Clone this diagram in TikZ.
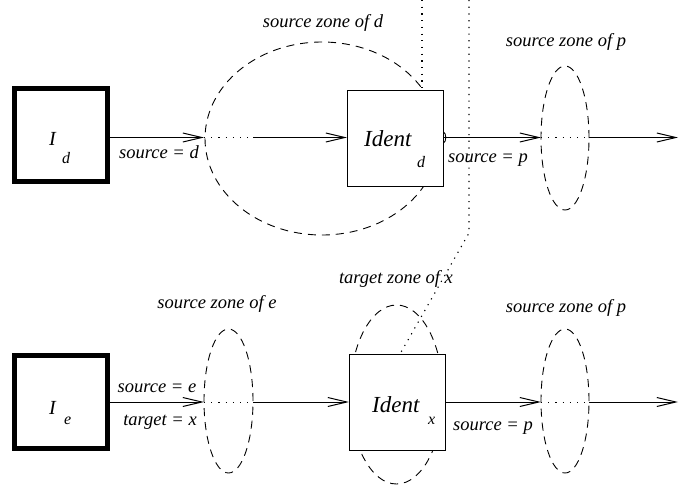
\documentclass[tikz,border=0pt]{standalone}
\usepackage{fontspec}
\setmainfont{Liberation Serif}
\usetikzlibrary{arrows.meta}
\begin{document}
\begin{tikzpicture}[x=1pt,y=-1pt,
  lbl/.style={font=\fontsize{18.5}{20}\selectfont\itshape, inner sep=0pt, anchor=base},
  big/.style={font=\fontsize{23}{25}\selectfont\itshape, inner sep=0pt, anchor=base west},
  letter/.style={font=\fontsize{20}{22}\selectfont\itshape, inner sep=0pt, anchor=base west},
  sub/.style={font=\fontsize{16}{18}\selectfont\itshape, inner sep=0pt, anchor=base west},
  inbox/.style={draw, line width=5.5pt, minimum width=93pt, minimum height=93pt, inner sep=0pt, outer sep=0pt, fill=white},
  identbox/.style={draw, line width=1pt, minimum width=96pt, minimum height=96pt, inner sep=0pt, outer sep=0pt, fill=white},
  zone/.style={dash pattern=on 8pt off 6pt, line width=0.9pt},
  guide/.style={dash pattern=on 1.2pt off 5.5pt, line width=1.1pt},
  link/.style={line width=1pt, -{Straight Barb[length=19pt,width=9pt]}},
  gap/.style={dash pattern=on 1.2pt off 6pt, line width=1pt},
]
\useasboundingbox (0,0) rectangle (679,485);

% zones (drawn first so the boxes hide them)
\draw[zone] (322,138.5) ellipse [x radius=117pt, y radius=96.5pt];
\draw[zone] (565,138) ellipse [x radius=24pt, y radius=72pt];
\draw[zone] (228.5,401) ellipse [x radius=24.5pt, y radius=72pt];
\draw[zone] (396.5,394.5) ellipse [x radius=46.5pt, y radius=89.5pt];
\draw[zone] (565,401) ellipse [x radius=24pt, y radius=72pt];

% boxes
\node[inbox] (Id) at (61,135) {};
\node[inbox] (Ie) at (61,402) {};
\node[identbox] (Identd) at (395,138) {};
\node[identbox] (Identx) at (397,402) {};

% box texts
\node[letter] (tId) at (49,145) {I};
\node[sub] (tIdsub) at (62,163) {d};
\node[letter] (tIe) at (49,414) {I};
\node[sub] (tIesub) at (64,424) {e};
\node[big] (tIdentd) at (364,146) {Ident};
\node[sub] (tIdentdsub) at (417,167) {d};
\node[big] (tIdentx) at (372,412) {Ident};
\node[sub] (tIdentxsub) at (428,424) {x};

% small cap on the right side of Ident_d
\draw[line width=0.9pt] (443.5,132) .. controls (446.5,133) and (446.5,142) .. (443.5,143);

% guide lines
\coordinate (g1) at (422,0);
\coordinate (g2) at (469,0);
\coordinate (g2b) at (469,233);
\draw[guide] (g1) -- (g1 |- Identd.north);
\draw[guide] (g2) -- (g2b) -- ([xshift=3pt]Identx.north);

% top row
\coordinate (zdL) at (204,137.5);
\coordinate (zdR) at (253,137.5);
\coordinate (zpL) at (541,137.5);
\coordinate (zpR) at (589,137.5);
\coordinate (outd) at (678,137.5);
\draw[link] (Id.east |- zdL) -- (zdL);
\draw[gap] (zdL) -- (zdR);
\draw[link] (zdR) -- (Identd.west |- zdR);
\draw[link] (Identd.east |- zpL) -- (zpL);
\draw[gap] (zpL) -- (zpR);
\draw[link] (zpR) -- (outd);

% bottom row
\coordinate (zeL) at (204,402);
\coordinate (zeR) at (253,402);
\coordinate (zqL) at (541,402);
\coordinate (zqR) at (589,402);
\coordinate (oute) at (678,402);
\draw[link] (Ie.east |- zeL) -- (zeL);
\draw[gap] (zeL) -- (zeR);
\draw[link] (zeR) -- (Identx.west |- zeR);
\draw[link] (Identx.east |- zqL) -- (zqL);
\draw[gap] (zqL) -- (zqR);
\draw[link] (zqR) -- (oute);

% labels
\node[lbl] (lzd) at (323,27) {source zone of d};
\node[lbl] (lzp1) at (566,46) {source zone of p};
\node[lbl] (lsd) at (159,158) {source = d};
\node[lbl] (lsp1) at (488,162) {source = p};
\node[lbl] (lzx) at (396,283) {target zone of x};
\node[lbl] (lze) at (217,308) {source zone of e};
\node[lbl] (lzp2) at (566,312) {source zone of p};
\node[lbl] (lse) at (157,392) {source = e};
\node[lbl] (ltx) at (160,425) {target = x};
\node[lbl] (lsp2) at (493,430) {source = p};
\end{tikzpicture}
\end{document}
